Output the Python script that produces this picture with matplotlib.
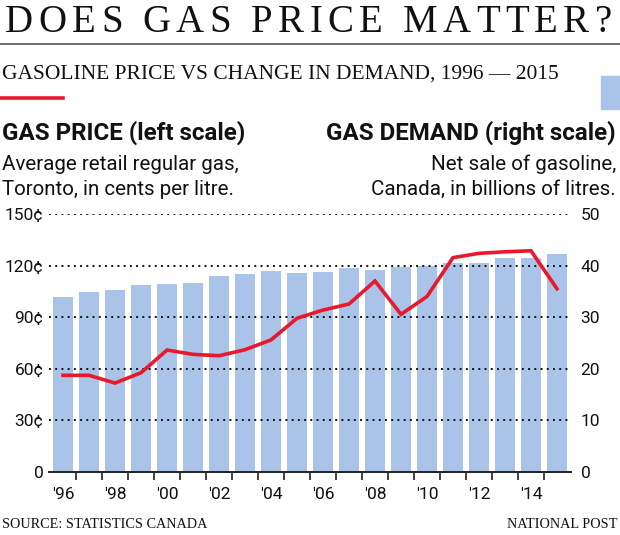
import numpy as np
import matplotlib.pyplot as plt
from matplotlib.lines import Line2D
from matplotlib.patches import Rectangle

years = list(range(1996, 2016))
# average retail regular gas price, Toronto, cents per litre
price = [56.1, 56.1, 51.6, 57.6, 70.8, 68.3, 67.5, 71.0, 76.7, 89.3,
         94.1, 97.6, 111.0, 91.6, 102.0, 124.6, 127.1, 128.0, 128.6, 106.5]
# net sale of gasoline, Canada, billions of litres
demand = [33.8, 34.8, 35.3, 36.2, 36.4, 36.6, 37.9, 38.4, 38.9, 38.5,
          38.7, 39.6, 39.1, 39.7, 40.0, 40.4, 40.4, 41.4, 41.4, 42.3]
left_ticks = [0, 30, 60, 90, 120, 150]
left_labels = ['0', '30¢', '60¢', '90¢', '120¢', '150¢']
right_ticks = [0, 10, 20, 30, 40, 50]
label_years = years[::2]

red = '#e8192c'
blue = '#a9c4e8'
ink = '#111111'
serif = ['Liberation Serif', 'DejaVu Serif']
narrow = ['Roboto', 'DejaVu Sans']

W, H = 620, 535
fig = plt.figure(figsize=(6.2, 5.35), dpi=100)

def fx(px):
    return px / W

def fy(py):
    return 1 - py / H

x = np.arange(len(years))

ax = fig.add_axes([fx(49), fy(471.7), fx(571 - 49), (471.7 - 214) / H])
ax2 = ax.twinx()
ax.set_zorder(ax2.get_zorder() + 1)
ax.patch.set_visible(False)

ax2.bar(x, demand, width=0.75, color=blue, zorder=1)
ax2.set_ylim(0, 50)
ax2.set_yticks(right_ticks)
ax2.tick_params(axis='y', length=0, pad=7, labelsize=12.5)
for t in ax2.get_yticklabels():
    t.set_family(narrow)
    t.set_color(ink)

for v in left_ticks[1:]:
    ax.axhline(v, color=ink, lw=1.4, ls=(0, (1, 2.2)), zorder=0)
ax.plot(x, price, color=red, lw=2.6, solid_joinstyle='miter', zorder=3)
ax.set_ylim(0, 150)
ax.set_xlim(-0.54, 19.54)
ax.set_yticks(left_ticks)
ax.set_yticklabels(left_labels, family=narrow, fontsize=12.5, color=ink)
ax.tick_params(axis='y', length=0, pad=4)

ax.set_xticks(np.arange(0.5, 19, 1))
ax.set_xticklabels([])
ax.set_xticks(x[::2], minor=True)
ax.set_xticklabels(["'" + str(y)[2:] for y in label_years], minor=True,
                   family=narrow, fontsize=12.5, color=ink)
ax.tick_params(axis='x', which='major', length=6, width=1.2, color='#222222')
ax.tick_params(axis='x', which='minor', length=0, pad=11)

for a in (ax, ax2):
    for s in ('top', 'left', 'right'):
        a.spines[s].set_visible(False)
ax.spines['bottom'].set_color('#222222')
ax.spines['bottom'].set_linewidth(1.4)
ax2.spines['bottom'].set_visible(False)

# letter-spaced title
title = 'DOES GAS PRICE MATTER?'
renderer = fig.canvas.get_renderer()
chars = []
widths = []
for ch in title:
    t = fig.text(0, fy(32), ch, family=serif, fontsize=28, va='baseline',
                 ha='left', color=ink)
    chars.append(t)
    if ch == ' ':
        widths.append(9.0)
    else:
        widths.append(t.get_window_extent(renderer).width)
x0, x1 = 5, 612
track = (x1 - x0 - sum(widths)) / (len(title) - 1)
pos = x0
for t, w in zip(chars, widths):
    t.set_x(fx(pos))
    pos += w + track

fig.add_artist(Line2D([0, 1], [fy(44), fy(44)], color='#555555', lw=1.2))
fig.text(fx(2), fy(79), 'GASOLINE PRICE VS CHANGE IN DEMAND, 1996 — 2015', family=serif,
         fontsize=15.5, va='baseline', color=ink)
fig.add_artist(Line2D([0, fx(63)], [fy(98), fy(98)], color=red, lw=2.6))
fig.add_artist(Rectangle((fx(601), fy(109)), fx(19), (109 - 76) / H, color=blue))

fig.text(fx(2), fy(140), 'GAS PRICE (left scale)', family=narrow, weight='bold',
         fontsize=17.4, va='baseline', color=ink)
fig.text(fx(616), fy(140), 'GAS DEMAND (right scale)', family=narrow, weight='bold',
         fontsize=17.4, va='baseline', ha='right', color=ink)
left_lines = ['Average retail regular gas,', 'Toronto, in cents per litre.']
right_lines = ['Net sale of gasoline,', 'Canada, in billions of litres.']
for i, (l, r) in enumerate(zip(left_lines, right_lines)):
    fig.text(fx(2), fy(170 + 25 * i), l, family=narrow, fontsize=14.8,
             va='baseline', color=ink)
    fig.text(fx(616), fy(170 + 25 * i), r, family=narrow, fontsize=14.8,
             va='baseline', ha='right', color=ink)

fig.text(fx(2), fy(528), 'SOURCE: STATISTICS CANADA', family=serif, fontsize=10.3,
         va='baseline', color=ink)
fig.text(fx(617), fy(528), 'NATIONAL POST', family=serif, fontsize=10.3,
         va='baseline', ha='right', color=ink)

fig.savefig('out.png', dpi=100)
